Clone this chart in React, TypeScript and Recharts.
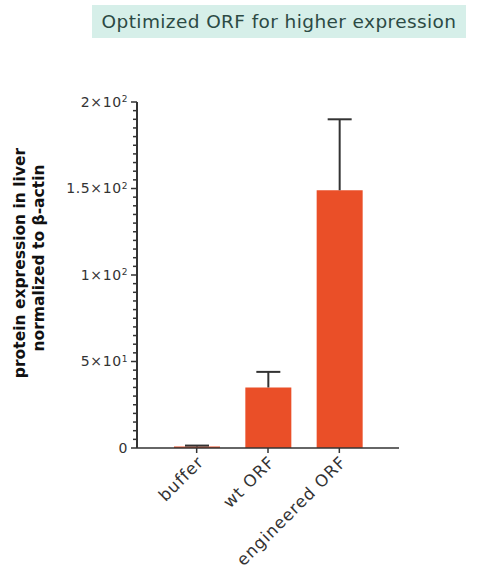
import React from "react";
import { ComposedChart, Bar, XAxis, YAxis } from "recharts";

const categories = ["buffer", "wt ORF", "engineered ORF"];
const means = [0.8, 35, 149];
const errors = [0.6, 9, 41];
const yTicks = [0, 5, 10, 15, 20, 25, 30, 35, 40, 45, 50, 55, 60, 65, 70, 75, 80, 85, 90, 95, 100, 105, 110, 115, 120, 125, 130, 135, 140, 145, 150, 155, 160, 165, 170, 175, 180, 185, 190, 195, 200];
const majorTicks = [0, 50, 100, 150, 200];
const majorLabels: [string, string][] = [["0", ""], ["5×10", "1"], ["1×10", "2"], ["1.5×10", "2"], ["2×10", "2"]];

const data = categories.map((c, i) => ({ name: c, value: means[i], err: errors[i] }));

const FONT = "'DejaVu Sans', Verdana, sans-serif";
const AXIS = "#333333";

const YTick = (props: any) => {
  const { x, y, payload } = props;
  const idx = majorTicks.indexOf(payload.value);
  const major = idx >= 0;
  return (
    <g>
      <line x1={major ? x - 6 : x - 4} x2={x} y1={y} y2={y} stroke={AXIS} strokeWidth={1.5} />
      {major && (
        <text x={x - 9} y={y} dy="0.35em" textAnchor="end" fontFamily={FONT} fontSize={14} fill="#333" letterSpacing={0.6}>
          {majorLabels[idx][0]}
          {majorLabels[idx][1] && (
            <tspan dy="-0.5em" fontSize={9}>{majorLabels[idx][1]}</tspan>
          )}
        </text>
      )}
    </g>
  );
};

const XTick = (props: any) => {
  const { x, y, payload } = props;
  const tx = x + 8;
  const ty = y + 8;
  return (
    <g>
      <text
        x={tx}
        y={ty}
        textAnchor="end"
        fontFamily={FONT}
        fontSize={16.5}
        letterSpacing={1}
        fill="#333"
        transform={`rotate(-45, ${tx}, ${ty})`}
      >
        {payload.value}
      </text>
    </g>
  );
};

const ErrShape = (props: any) => {
  const { x, y, width, height } = props;
  const cx = x + width / 2;
  return (
    <g>
      <line x1={cx} x2={cx} y1={y} y2={y + height} stroke={AXIS} strokeWidth={2} />
      <line x1={cx - 12} x2={cx + 12} y1={y} y2={y} stroke={AXIS} strokeWidth={2} />
    </g>
  );
};

export default function App() {
  return (
    <div style={{ position: "absolute", left: 0, top: 0, width: 480, height: 580, background: "#fff" }}>
      <div
        style={{
          position: "absolute",
          left: 92,
          top: 5,
          width: 374,
          height: 33,
          background: "#d6efe9",
          color: "#2c4a44",
          fontFamily: FONT,
          fontSize: 18.5,
          letterSpacing: 0.4,
          lineHeight: "33px",
          textAlign: "center",
          whiteSpace: "nowrap",
        }}
      >
        Optimized ORF for higher expression
      </div>
      <ComposedChart
        width={480}
        height={580}
        data={data}
        margin={{ top: 102, right: 81, left: 0, bottom: 0 }}
        barSize={46}
      >
        <XAxis
          dataKey="name"
          type="category"
          height={132}
          padding={{ left: 24, right: 24 }}
          axisLine={{ stroke: AXIS, strokeWidth: 1.5 }}
          tickLine={{ stroke: AXIS, strokeWidth: 1.5 }}
          tickSize={5}
          tick={<XTick />}
          interval={0}
        />
        <YAxis
          type="number"
          domain={[0, 200]}
          ticks={yTicks}
          interval={0}
          minTickGap={0}
          width={137}
          tickSize={0}
          tickMargin={0}
          tickLine={false}
          axisLine={{ stroke: AXIS, strokeWidth: 2 }}
          tick={<YTick />}
          allowDataOverflow
        />
        <Bar dataKey="value" stackId="a" fill="#ea4f28" isAnimationActive={false} />
        <Bar dataKey="err" stackId="a" shape={<ErrShape />} isAnimationActive={false} />
        <text
          transform="rotate(-90)"
          fontFamily={FONT}
          fontWeight="bold"
          fontSize={15.5}
          fill="#111"
          textAnchor="middle"
        >
          <tspan x={-263} y={25}>protein expression in liver</tspan>
          <tspan x={-258} y={44}>normalized to β-actin</tspan>
        </text>
      </ComposedChart>
    </div>
  );
}
